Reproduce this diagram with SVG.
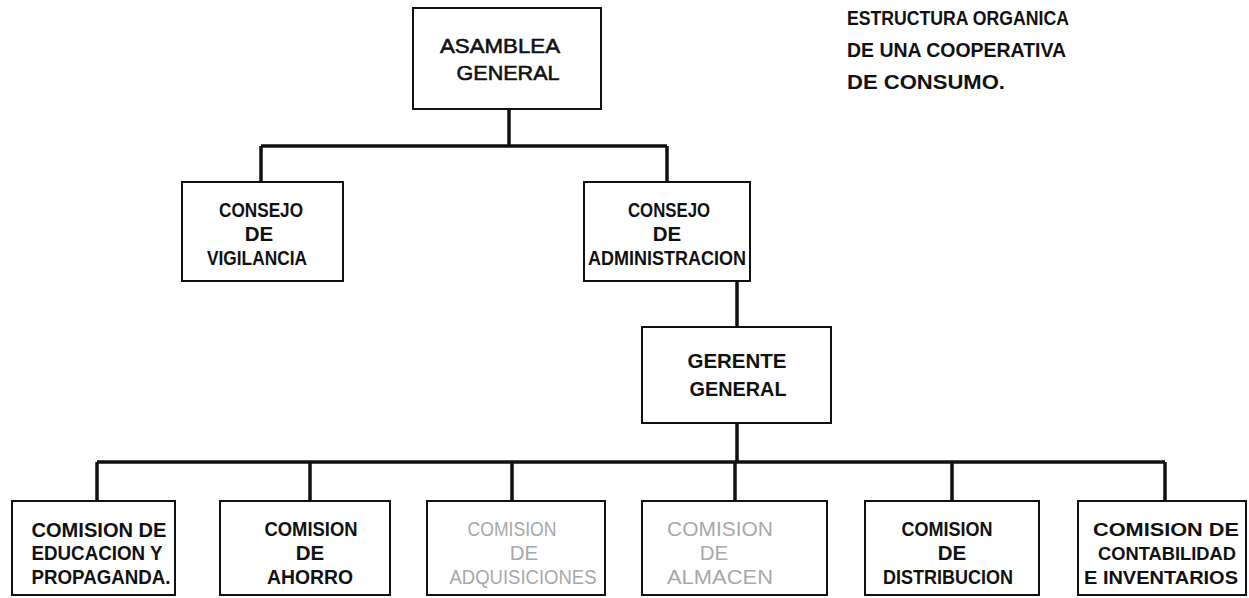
<svg xmlns="http://www.w3.org/2000/svg" width="1249" height="598" viewBox="0 0 1249 598">
<style>
.box{fill:#fff;stroke:#111;stroke-width:2}
.t{font-family:"Liberation Sans",Arial,sans-serif;font-weight:bold;font-size:20.5px;fill:#111;text-anchor:middle}
.s{font-size:19px}
.tl{font-family:"Liberation Sans",Arial,sans-serif;font-weight:normal;font-size:21px;fill:#111;stroke:#111;stroke-width:0.6;text-anchor:middle}
.ti{font-family:"Liberation Sans",Arial,sans-serif;font-weight:bold;font-size:20.5px;fill:#111}
.f{font-family:"Liberation Sans",Arial,sans-serif;font-weight:normal;font-size:20.5px;fill:#a8a8a8;text-anchor:middle}
.c{fill:none;stroke:#111;stroke-width:3.5}
</style>
<rect width="1249" height="598" fill="#fff"/>
<g id="title">
<text class="ti" x="847" y="25" textLength="222" lengthAdjust="spacingAndGlyphs">ESTRUCTURA ORGANICA</text>
<text class="ti" x="847" y="57" textLength="219" lengthAdjust="spacingAndGlyphs">DE UNA COOPERATIVA</text>
<text class="ti" x="847" y="89" textLength="158" lengthAdjust="spacingAndGlyphs">DE CONSUMO.</text>
</g>
<g id="connectors">
<path class="c" d="M509 109V146M261 146H667M261 146V182M667 146V182"/>
<path class="c" d="M737 281V327M737 423V462"/>
<path class="c" d="M97 462H1165M97 462V501M310 462V501M512 462V501M735 462V501M952 462V501M1165 462V501"/>
</g>
<g id="asamblea">
<rect class="box" x="413" y="8" width="188" height="101"/>
<text class="tl" x="500" y="53" textLength="120" lengthAdjust="spacingAndGlyphs">ASAMBLEA</text>
<text class="tl" x="508" y="80" textLength="103" lengthAdjust="spacingAndGlyphs">GENERAL</text>
</g>
<g id="vigilancia">
<rect class="box" x="182" y="182" width="161" height="99"/>
<text class="t" x="261" y="217" textLength="84" lengthAdjust="spacingAndGlyphs">CONSEJO</text>
<text class="t" x="259" y="241">DE</text>
<text class="t" x="257" y="265" textLength="100" lengthAdjust="spacingAndGlyphs">VIGILANCIA</text>
</g>
<g id="administracion">
<rect class="box" x="584" y="182" width="166" height="99"/>
<text class="t" x="669" y="217" textLength="82" lengthAdjust="spacingAndGlyphs">CONSEJO</text>
<text class="t" x="667" y="241">DE</text>
<text class="t" x="667" y="265" textLength="158" lengthAdjust="spacingAndGlyphs">ADMINISTRACION</text>
</g>
<g id="gerente">
<rect class="box" x="642" y="327" width="189" height="96"/>
<text class="t" x="737" y="368" textLength="99" lengthAdjust="spacingAndGlyphs">GERENTE</text>
<text class="t" x="738" y="396" textLength="97" lengthAdjust="spacingAndGlyphs">GENERAL</text>
</g>
<g id="educacion">
<rect class="box" x="12" y="501" width="163" height="94"/>
<text class="t" x="99" y="537" textLength="135" lengthAdjust="spacingAndGlyphs">COMISION DE</text>
<text class="t" x="97" y="560" textLength="131" lengthAdjust="spacingAndGlyphs">EDUCACION Y</text>
<text class="t" x="101" y="584" textLength="139" lengthAdjust="spacingAndGlyphs">PROPAGANDA.</text>
</g>
<g id="ahorro">
<rect class="box" x="220" y="501" width="170" height="94"/>
<text class="t" x="311" y="536" textLength="93" lengthAdjust="spacingAndGlyphs">COMISION</text>
<text class="t" x="310" y="560">DE</text>
<text class="t" x="310" y="584" textLength="86" lengthAdjust="spacingAndGlyphs">AHORRO</text>
</g>
<g id="adquisiciones">
<rect class="box" x="427" y="501" width="178" height="94"/>
<text class="f" x="512" y="536" textLength="89" lengthAdjust="spacingAndGlyphs">COMISION</text>
<text class="f" x="524" y="560">DE</text>
<text class="f" x="523" y="584" textLength="147" lengthAdjust="spacingAndGlyphs">ADQUISICIONES</text>
</g>
<g id="almacen">
<rect class="box" x="642" y="501" width="185" height="94"/>
<text class="f" x="720" y="536" textLength="106" lengthAdjust="spacingAndGlyphs">COMISION</text>
<text class="f" x="714" y="560">DE</text>
<text class="f" x="720" y="584" textLength="106" lengthAdjust="spacingAndGlyphs">ALMACEN</text>
</g>
<g id="distribucion">
<rect class="box" x="865" y="501" width="174" height="94"/>
<text class="t" x="947" y="536" textLength="91" lengthAdjust="spacingAndGlyphs">COMISION</text>
<text class="t" x="952" y="560">DE</text>
<text class="t" x="948" y="584" textLength="130" lengthAdjust="spacingAndGlyphs">DISTRIBUCION</text>
</g>
<g id="contabilidad">
<rect class="box" x="1078" y="501" width="168" height="94"/>
<text class="t s" x="1166" y="536" textLength="146" lengthAdjust="spacingAndGlyphs">COMISION  DE</text>
<text class="t s" x="1167" y="560" textLength="138" lengthAdjust="spacingAndGlyphs">CONTABILIDAD</text>
<text class="t s" x="1161" y="584" textLength="154" lengthAdjust="spacingAndGlyphs">E INVENTARIOS</text>
</g>
</svg>
